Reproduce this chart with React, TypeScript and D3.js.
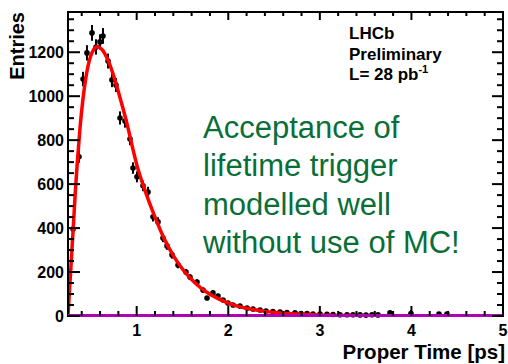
import React from "react";
import * as d3 from "d3";

// ---- data ----
const pointT = [0.305, 0.370, 0.414, 0.457, 0.512, 0.556, 0.599, 0.632, 0.687, 0.730, 0.774, 0.818, 0.872, 0.927, 0.960, 1.003, 1.069, 1.124, 1.178, 1.233, 1.287, 1.331, 1.386, 1.451, 1.538, 1.582, 1.659, 1.724, 1.768, 1.833, 1.888, 1.943, 1.997, 2.052, 2.128, 2.205, 2.270, 2.347, 2.412, 2.488, 2.565, 2.641, 2.729, 2.794, 2.860, 2.925, 3.002, 3.078, 3.144, 3.220, 3.297, 3.362, 3.439, 3.504, 3.569, 3.635, 3.766, 3.995, 4.301, 4.388];
const pointN = [396, 724, 1078, 1197, 1288, 1224, 1247, 1274, 1160, 1074, 1051, 901, 887, 805, 673, 633, 592, 564, 451, 428, 355, 319, 278, 232, 200, 177, 155, 118, 82, 105, 91, 73, 59, 50, 45, 36, 32, 27, 23, 20, 18, 16, 14, 11, 11, 9, 9, 8, 7, 6, 6, 6, 5, 4, 6, 5, 14, 11, 9, 9];
const pointErr = [20, 27, 33, 35, 36, 35, 35, 36, 34, 33, 32, 30, 30, 28, 26, 25, 24, 24, 21, 21, 19, 18, 17, 15, 14, 13, 12, 11, 9, 10, 10, 9, 8, 7, 7, 6, 6, 5, 5, 5, 4, 4, 4, 4, 4, 3, 3, 3, 3, 3, 3, 3, 3, 3, 3, 3, 6, 16, 6, 6];

const fitT = [0.25, 0.27, 0.29, 0.31, 0.33, 0.35, 0.38, 0.41, 0.44, 0.47, 0.50, 0.53, 0.56, 0.60, 0.65, 0.70, 0.75, 0.80, 0.85, 0.90, 0.95, 1.00, 1.10, 1.20, 1.30, 1.40, 1.50, 1.60, 1.70, 1.80, 1.90, 2.00, 2.20, 2.40, 2.60, 2.80, 3.00, 3.30, 3.60, 4.00, 4.50, 5.00];
const fitN = [0, 140, 280, 420, 565, 690, 850, 975, 1070, 1140, 1185, 1212, 1225, 1220, 1195, 1150, 1090, 1020, 945, 865, 775, 690, 560, 450, 352, 275, 214, 166, 128, 99, 77, 59, 35, 21, 13, 8, 5, 2.5, 1.2, 0.5, 0.2, 0.1];

const xTickValues = [1, 2, 3, 4, 5];
const yTickValues = [0, 200, 400, 600, 800, 1000, 1200];
const noteLines = ["Acceptance of", "lifetime trigger", "modelled well", "without use of MC!"];
const labelLines = ["LHCb", "Preliminary"];

const W = 508, H = 364;
const L = 68, R = 503, T = 12, B = 316;

export default function App() {
  const x = d3.scaleLinear().domain([0.25, 5.0]).range([L, R]);
  const y = d3.scaleLinear().domain([0, 1383]).range([B, T]);

  const xMinor = d3.range(0.4, 4.9, 0.2).filter((v) => Math.abs(v - Math.round(v)) > 0.05);
  const yMinor = d3.range(50, 1383, 50).filter((v) => v % 200 !== 0);

  const line = d3
    .line<number>()
    .x((_, i) => x(fitT[i]))
    .y((d) => y(d))
    .curve(d3.curveMonotoneX);

  const axisFont = "'Liberation Sans', Arial, Helvetica, sans-serif";

  return (
    <svg width={W} height={H} style={{ position: "absolute", left: 0, top: 0, background: "#fff" }}>
      <defs>
        <clipPath id="plot">
          <rect x={L} y={T} width={R - L} height={B - T} />
        </clipPath>
      </defs>

      {/* data points */}
      <g fill="#000" stroke="#000">
        {pointT.map((t, i) => {
          const cx = x(t);
          const cy = y(pointN[i]);
          return (
            <g key={i}>
              <line x1={cx} x2={cx} y1={y(pointN[i] + pointErr[i])} y2={Math.min(B, y(pointN[i] - pointErr[i]))} strokeWidth={2} />
              <circle cx={cx} cy={cy} r={2.8} stroke="none" />
            </g>
          );
        })}
      </g>

      {/* fit curve */}
      <path d={line(fitN) || ""} fill="none" stroke="#ff0000" strokeWidth={3.5} clipPath="url(#plot)" />

      {/* frame */}
      <rect x={L} y={T} width={R - L} height={B - T} fill="none" stroke="#000" strokeWidth={2} />

      {/* magenta baseline */}
      <line x1={L} x2={R} y1={B - 0.5} y2={B - 0.5} stroke="#b000b8" strokeWidth={3} />

      {/* ticks */}
      <g stroke="#000" strokeWidth={2}>
        {xTickValues.map((v) => (
          <g key={"xm" + v}>
            <line x1={x(v)} x2={x(v)} y1={B} y2={B - 10} />
            <line x1={x(v)} x2={x(v)} y1={T} y2={T + 8} />
          </g>
        ))}
        {xMinor.map((v) => (
          <g key={"xn" + v}>
            <line x1={x(v)} x2={x(v)} y1={B} y2={B - 5} />
            <line x1={x(v)} x2={x(v)} y1={T} y2={T + 4} />
          </g>
        ))}
        {yTickValues.map((v) => (
          <g key={"ym" + v}>
            <line x1={L} x2={L + 12} y1={y(v)} y2={y(v)} />
            <line x1={R} x2={R - 11} y1={y(v)} y2={y(v)} />
          </g>
        ))}
        {yMinor.map((v) => (
          <g key={"yn" + v}>
            <line x1={L} x2={L + 6} y1={y(v)} y2={y(v)} />
            <line x1={R} x2={R - 6} y1={y(v)} y2={y(v)} />
          </g>
        ))}
      </g>

      {/* tick labels */}
      <g fontFamily={axisFont} fontWeight="bold" fontSize={16} fill="#000">
        {xTickValues.map((v) => (
          <text key={"xl" + v} x={x(v)} y={336} textAnchor="middle">
            {v}
          </text>
        ))}
        {yTickValues.map((v) => (
          <text key={"yl" + v} x={64} y={y(v) + 6} textAnchor="end">
            {v}
          </text>
        ))}
      </g>

      {/* axis titles */}
      <text x={505} y={359} textAnchor="end" fontFamily={axisFont} fontWeight="bold" fontSize={20.5}>
        Proper Time [ps]
      </text>
      <text
        transform={`translate(24, ${T}) rotate(-90)`}
        textAnchor="end"
        fontFamily={axisFont}
        fontWeight="bold"
        fontSize={20}
      >
        Entries
      </text>

      {/* LHCb label */}
      <g fontFamily={axisFont} fontWeight="bold" fontSize={17} fill="#000">
        <text x={349} y={39}>{labelLines[0]}</text>
        <text x={349} y={60}>{labelLines[1]}</text>
        <text x={349} y={80}>
          L= 28 pb<tspan fontSize={11} dy={-7}>-1</tspan>
        </text>
      </g>

      {/* green note */}
      <g fontFamily={axisFont} fontSize={31} fill="#0a6e38">
        {noteLines.map((s, i) => (
          <text key={s} x={203} y={138 + i * 38.3}>
            {s}
          </text>
        ))}
      </g>
    </svg>
  );
}
